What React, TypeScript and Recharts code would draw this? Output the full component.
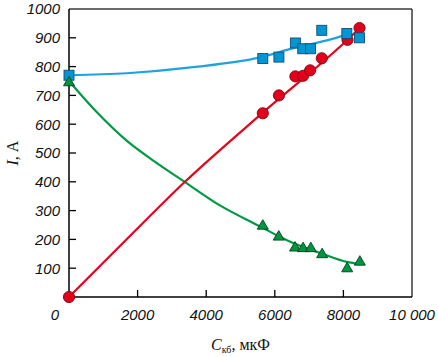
import React from 'react';
import { ComposedChart, XAxis, YAxis, Line, Scatter, ReferenceLine } from 'recharts';

// Measured points
const redX = [0, 5650, 6120, 6600, 6825, 7030, 7370, 8120, 8470];
const redY = [0, 638, 700, 766, 768, 787, 829, 893, 934];
const blueX = [0, 5650, 6120, 6600, 6815, 7040, 7370, 8100, 8470];
const blueY = [770, 828, 833, 882, 862, 862, 926, 915, 900];
const greenX = [0, 5650, 6115, 6590, 6825, 7050, 7380, 8110, 8480];
const greenY = [750, 252, 214, 176, 174, 174, 153, 104, 127];

// Fitted curves
const redFitX = [0, 1710, 3380, 5650, 8120, 8470];
const redFitY = [0, 204, 400, 640, 893, 933];
const blueFitX = [0, 1680, 3620, 5570, 6540, 7520, 8100];
const blueFitY = [770, 777, 798, 832, 864, 891, 911];
const greenFitX = [0, 800, 1680, 2500, 3380, 4400, 5570, 6100, 6640, 7320, 8100, 8490];
const greenFitY = [750, 643, 543, 470, 399, 318, 245, 212, 182, 153, 122, 114];

const xTicks = [0, 2000, 4000, 6000, 8000, 10000];
const yTicks = [100, 200, 300, 400, 500, 600, 700, 800, 900, 1000];

const zip = (xs: number[], ys: number[]) => xs.map((x, i) => ({ x, y: ys[i] }));
const redPts = zip(redX, redY);
const bluePts = zip(blueX, blueY);
const greenPts = zip(greenX, greenY);
const redFit = zip(redFitX, redFitY);
const blueFit = zip(blueFitX, blueFitY);
const greenFit = zip(greenFitX, greenFitY);

const TICK_FONT = '"Liberation Sans", Arial, sans-serif';
const SERIF = '"Liberation Serif", "Times New Roman", serif';

const XTick = (props: any) => {
  const { x, y, payload } = props;
  const v = payload.value;
  const axisY = y - 18;
  const label = v === 10000 ? '10 000' : String(v);
  const tx = v === 0 ? x - 14 : x;
  return (
    <g>
      {v !== 0 && v !== 10000 && (
        <line x1={x} x2={x} y1={axisY} y2={axisY - 7} stroke="#000" strokeWidth={1.3} />
      )}
      <text x={tx} y={y} dy="0.36em" textAnchor="middle" fontFamily={TICK_FONT} fontStyle="italic" fontSize={15} fill="#111">
        {label}
      </text>
    </g>
  );
};

const YTick = (props: any) => {
  const { x, y, payload } = props;
  const v = payload.value;
  const axisX = x + 9;
  return (
    <g>
      {v !== 1000 && (
        <line x1={axisX} x2={axisX + 7} y1={y} y2={y} stroke="#000" strokeWidth={1.3} />
      )}
      <text x={x} y={y} dy="0.36em" textAnchor="end" fontFamily={TICK_FONT} fontStyle="italic" fontSize={15} fill="#111">
        {v}
      </text>
    </g>
  );
};

const CircleShape = (props: any) => {
  const { cx, cy } = props;
  return <circle cx={cx} cy={cy} r={5.6} fill="#e2001a" stroke="#7a0a10" strokeWidth={0.9} />;
};
const SquareShape = (props: any) => {
  const { cx, cy } = props;
  return <rect x={cx - 5} y={cy - 5} width={10} height={10} fill="#0096d6" stroke="#164c6e" strokeWidth={0.9} />;
};
const TriangleShape = (props: any) => {
  const { cx, cy } = props;
  const h = 9.5;
  const w = 11;
  const d = `M${cx},${cy - h / 2} L${cx + w / 2},${cy + h / 2} L${cx - w / 2},${cy + h / 2} Z`;
  return <path d={d} fill="#009540" stroke="#06401e" strokeWidth={0.9} />;
};

const XLabel = (props: any) => {
  const vb = props.viewBox || {};
  const cx = vb.x + vb.width / 2;
  return (
    <text x={cx} y={350} textAnchor="middle" fontFamily={SERIF} fontSize={16} fill="#111">
      <tspan fontStyle="italic">C</tspan>
      <tspan fontSize={10} dy={3}>кб</tspan>
      <tspan dy={-3}>, мкФ</tspan>
    </text>
  );
};

const YLabel = (props: any) => {
  const vb = props.viewBox || {};
  const cy = vb.y + vb.height / 2;
  const cx = 18;
  return (
    <text x={cx} y={cy} textAnchor="middle" transform={`rotate(-90, ${cx}, ${cy})`} fontFamily={SERIF} fontSize={16} fill="#111">
      <tspan fontStyle="italic">I</tspan>
      <tspan>, А</tspan>
    </text>
  );
};

export default function App() {
  return (
    <div style={{ position: 'absolute', left: 0, top: 0, width: 438, height: 357, background: '#fff' }}>
      <ComposedChart width={438} height={357} margin={{ top: 9, right: 26, bottom: 0, left: 0 }}>
        <XAxis
          dataKey="x"
          type="number"
          domain={[0, 10000]}
          ticks={xTicks}
          interval={0}
          tickSize={0}
          tickMargin={18}
          tickLine={false}
          tick={<XTick />}
          axisLine={{ stroke: '#000', strokeWidth: 1.5 }}
          height={60}
          label={{ content: <XLabel /> }}
        />
        <YAxis
          dataKey="y"
          type="number"
          domain={[0, 1000]}
          ticks={yTicks}
          interval={0}
          tickSize={0}
          tickMargin={9}
          tickLine={false}
          tick={<YTick />}
          axisLine={{ stroke: '#000', strokeWidth: 1.5 }}
          width={69}
          label={{ content: <YLabel /> }}
        />
        <ReferenceLine y={1000} stroke="#3a3a3a" strokeWidth={1.5} />
        <ReferenceLine x={10000} stroke="#3a3a3a" strokeWidth={1.5} />
        <Line data={greenFit} dataKey="y" type="monotone" stroke="#009a44" strokeWidth={2.2} dot={false} activeDot={false} isAnimationActive={false} />
        <Line data={blueFit} dataKey="y" type="monotone" stroke="#1ea2e0" strokeWidth={2.2} dot={false} activeDot={false} isAnimationActive={false} />
        <Line data={redFit} dataKey="y" type="monotone" stroke="#e3061b" strokeWidth={2.2} dot={false} activeDot={false} isAnimationActive={false} />
        <Scatter data={redPts} dataKey="y" shape={<CircleShape />} isAnimationActive={false} />
        <Scatter data={bluePts} dataKey="y" shape={<SquareShape />} isAnimationActive={false} />
        <Scatter data={greenPts} dataKey="y" shape={<TriangleShape />} isAnimationActive={false} />
      </ComposedChart>
    </div>
  );
}
